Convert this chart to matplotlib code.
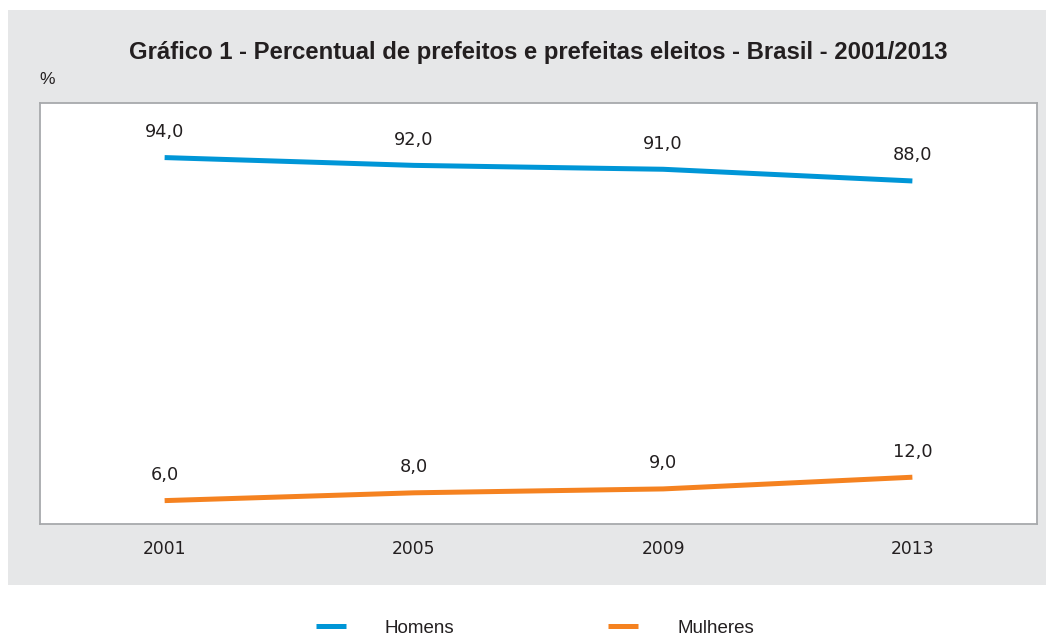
import matplotlib
matplotlib.use("Agg")
import matplotlib.pyplot as plt
from matplotlib.patches import Rectangle

years = ["2001", "2005", "2009", "2013"]
homens = [94.0, 92.0, 91.0, 88.0]
mulheres = [6.0, 8.0, 9.0, 12.0]
series_names = ["Homens", "Mulheres"]
colors = ["#0096D7", "#F58220"]

plt.rcParams['font.family'] = ['Liberation Sans', 'DejaVu Sans']
num_font = ['DejaVu Sans']

W, H = 1054, 636
fig = plt.figure(figsize=(W / 100, H / 100), dpi=100, facecolor="white")

# gray panel
fig.patches.append(Rectangle((8 / W, 1 - 585 / H), (1046 - 8) / W, (585 - 10) / H,
                             transform=fig.transFigure, facecolor="#E6E7E8",
                             edgecolor="none", zorder=-10))

ax = fig.add_axes([40 / W, 1 - 524 / H, (1037 - 40) / W, (524 - 103) / H])
ax.set_zorder(5)
ax.set_facecolor("white")
for s in ax.spines.values():
    s.set_color("#A7A9AC")
    s.set_linewidth(1.3)

x = list(range(len(years)))
for vals, name, c in zip([homens, mulheres], series_names, colors):
    ax.plot(x, vals, color=c, lw=3.6, solid_capstyle="butt", label=name)
    for xi, v in zip(x, vals):
        ax.annotate(f"{v:.1f}".replace(".", ","), (xi, v), xytext=(0, 18.5),
                    textcoords="offset points", ha="center", va="center",
                    fontsize=12.8, color="#231F20", family=num_font)

ax.set_xlim(-0.5, 3.5)
ax.set_ylim(0, 108)
ax.set_yticks([])
ax.set_xticks(x)
ax.set_xticklabels(years, fontsize=12.3, color="#231F20", family=num_font)
ax.tick_params(axis="x", length=0, pad=11.5)

fig.text(538 / W, 1 - 52 / H,
         "Gráfico 1 - Percentual de prefeitos e prefeitas eleitos - Brasil - 2001/2013",
         ha="center", va="center", fontsize=17.2, fontweight="bold", color="#231F20")
fig.text(47 / W, 1 - 80 / H, "%", ha="center", va="center", fontsize=12.5, color="#231F20")

handles, labels = ax.get_legend_handles_labels()
leg = fig.legend(handles, labels, loc="center", bbox_to_anchor=(535 / W, 1 - 628 / H),
                 ncol=2, frameon=False, fontsize=13.5, handlelength=1.6,
                 handletextpad=2.1, columnspacing=8.2)
for t in leg.get_texts():
    t.set_color("#231F20")

fig.savefig("out.png", dpi=100, facecolor="white")
